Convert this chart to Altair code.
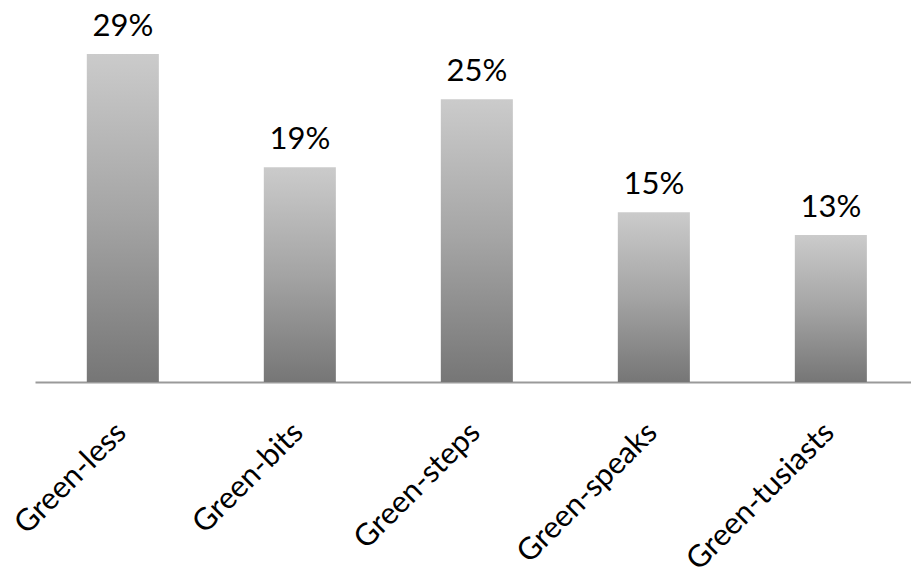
import altair as alt
import pandas as pd

# Segment names and their share of respondents
segments = ["Green-less", "Green-bits", "Green-steps", "Green-speaks", "Green-tusiasts"]
shares = [0.29, 0.19, 0.25, 0.15, 0.13]

df = pd.DataFrame({"segment": segments, "share": shares})

FONT = "Lato"

gradient = alt.LinearGradient(
    gradient="linear",
    x1=0, y1=0, x2=0, y2=1,
    stops=[
        alt.GradientStop(color="#cbcbcb", offset=0),
        alt.GradientStop(color="#a4a4a4", offset=0.5),
        alt.GradientStop(color="#767676", offset=1),
    ],
)

x_enc = alt.X(
    "segment:N",
    sort=segments,
    scale=alt.Scale(paddingInner=0.593, paddingOuter=0.271, align=0.54),
    axis=alt.Axis(
        title=None,
        labelAngle=-45,
        labelAlign="right",
        labelBaseline="alphabetic",
        labelFont=FONT,
        labelFontSize=30.5,
        labelColor="#000000",
        labelPadding=52,
        labelOffset=5,
        labelLimit=400,
        ticks=False,
        domainColor="#9a9a9a",
        domainWidth=2,
        grid=False,
    ),
)
y_enc = alt.Y(
    "share:Q",
    scale=alt.Scale(domain=[0, 0.3378], nice=False, zero=True),
    axis=None,
)

bars = alt.Chart(df).mark_bar(color=gradient).encode(x=x_enc, y=y_enc)

labels = alt.Chart(df).mark_text(
    font=FONT, fontSize=31, color="#000000", baseline="alphabetic", dy=-18
).encode(
    x=alt.X("segment:N", sort=segments),
    y=alt.Y("share:Q"),
    text=alt.Text("share:Q", format=".0%"),
)

chart = (
    alt.layer(bars, labels)
    .properties(
        width=876,
        height=382,
        background="#ffffff",
        padding={"left": 35, "top": 0, "right": 0, "bottom": 197},
        autosize=alt.AutoSizeParams(type="none"),
    )
    .configure_view(strokeWidth=0)
)

chart.save("out.html", embed_options={"renderer": "svg", "actions": False})
